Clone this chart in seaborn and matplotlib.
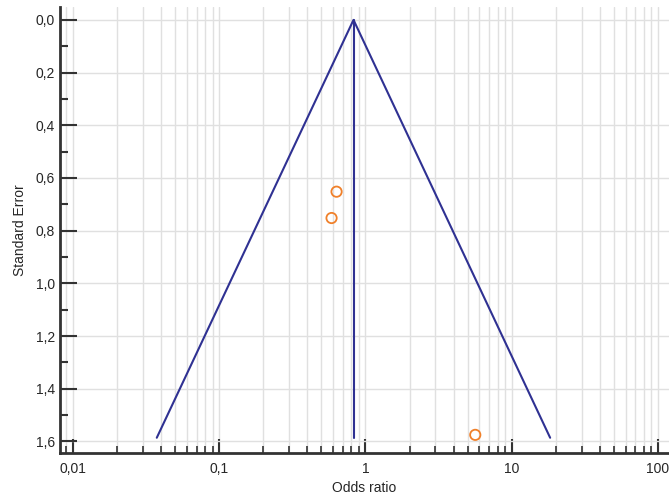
import matplotlib
matplotlib.use('Agg')
import matplotlib.pyplot as plt
import matplotlib.ticker as mticker
import numpy as np
import pandas as pd
import seaborn as sns

# funnel outline (odds ratio vs standard error)
funnel_or = [0.0374, 0.828, 18.3]
funnel_se = [1.586, 0.0, 1.586]
pooled_or = [0.828, 0.828]
pooled_se = [0.0, 1.586]

# study points
study_or = [0.634, 0.586, 5.63]
study_se = [0.652, 0.752, 1.575]

x_ticks = [0.01, 0.1, 1, 10, 100]
x_labels = ['0,01', '0,1', '1', '10', '100']
y_ticks = [0.0, 0.2, 0.4, 0.6, 0.8, 1.0, 1.2, 1.4, 1.6]

sns.set_style('white')
plt.rcParams['font.family'] = ['Liberation Sans', 'DejaVu Sans']

fig = plt.figure(figsize=(6.69, 4.95), dpi=100)
ax = fig.add_axes([60 / 669, 1 - 453.3 / 495, 609 / 669, (453.3 - 7) / 495])

line_col = '#2f3192'
sns.lineplot(x=funnel_or, y=funnel_se, sort=False, estimator=None,
             color=line_col, lw=1.5, ax=ax)
sns.lineplot(x=pooled_or, y=pooled_se, sort=False, estimator=None,
             color=line_col, lw=1.5, ax=ax)

pts = pd.DataFrame({'or': study_or, 'se': study_se})
sns.scatterplot(data=pts, x='or', y='se', ax=ax, s=55, marker='o',
                facecolor='none', edgecolor='#f0802a', linewidth=1.3, zorder=5)

ax.set_xscale('log')
ax.set_xlim(0.00815, 118.9)
ax.set_ylim(1.645, -0.049)

ax.set_xticks(x_ticks)
ax.set_xticklabels(x_labels)
ax.xaxis.set_minor_locator(mticker.LogLocator(base=10, subs=np.arange(2, 10)))
ax.xaxis.set_minor_formatter(mticker.NullFormatter())

ax.set_yticks(y_ticks)
ax.yaxis.set_major_formatter(mticker.FuncFormatter(lambda v, p: f'{v:.1f}'.replace('.', ',')))
ax.yaxis.set_minor_locator(mticker.MultipleLocator(0.1))

ax.grid(which='major', axis='both', color='#e0e0e0', lw=1)
ax.grid(which='minor', axis='x', color='#e0e0e0', lw=1)
ax.set_axisbelow(True)

for s in ['top', 'right']:
    ax.spines[s].set_visible(False)
for s in ['left', 'bottom']:
    ax.spines[s].set_color('#333333')
    ax.spines[s].set_linewidth(2)

ax.tick_params(axis='y', which='both', left=True)
ax.tick_params(axis='x', which='both', bottom=True)
ax.tick_params(axis='y', which='major', direction='in', length=12, width=1.5, color='#333333', labelsize=10)
ax.tick_params(axis='y', which='minor', direction='in', length=6, width=1.5, color='#333333')
ax.tick_params(axis='x', which='major', direction='in', length=10, width=1.5, color='#333333', labelsize=10, pad=6)
ax.tick_params(axis='x', which='minor', direction='in', length=5, width=1.2, color='#333333')

ax.set_xlabel('Odds ratio', fontsize=10, labelpad=4)
ax.set_ylabel('Standard Error', fontsize=10, labelpad=6)

fig.savefig('out.png', dpi=100)
